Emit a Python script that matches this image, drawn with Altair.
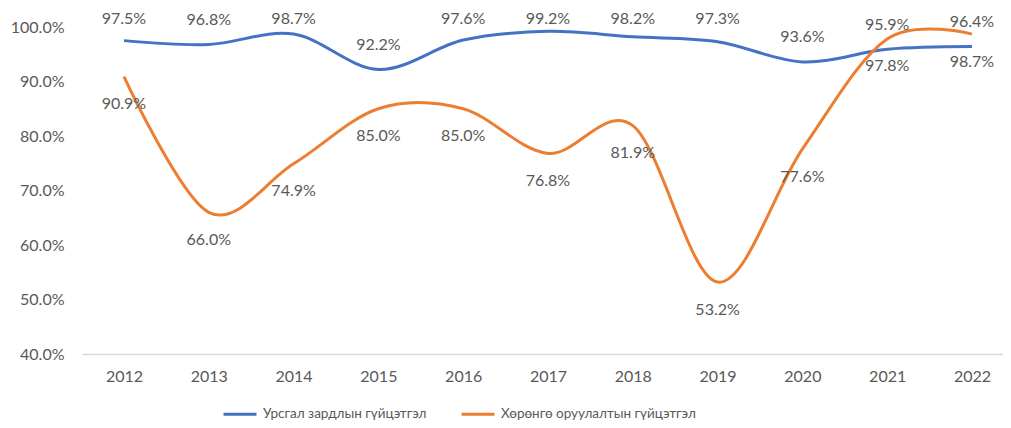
import altair as alt
import pandas as pd

years = [2012, 2013, 2014, 2015, 2016, 2017, 2018, 2019, 2020, 2021, 2022]
current_exec = [97.5, 96.8, 98.7, 92.2, 97.6, 99.2, 98.2, 97.3, 93.6, 95.9, 96.4]
invest_exec = [90.9, 66.0, 74.9, 85.0, 85.0, 76.8, 81.9, 53.2, 77.6, 97.8, 98.7]
series_names = ["Урсгал зардлын гүйцэтгэл", "Хөрөнгө оруулалтын гүйцэтгэл"]
colors = ["#4472C4", "#ED7D31"]
y_ticks = [0.4, 0.5, 0.6, 0.7, 0.8, 0.9, 1.0]

rows = []
for i, yr in enumerate(years):
    rows.append({"year": yr, "series": series_names[0], "value": current_exec[i] / 100})
    rows.append({"year": yr, "series": series_names[1], "value": invest_exec[i] / 100})
df = pd.DataFrame(rows)

FONT = "Lato"
GRAY = "#595959"

x_enc = alt.X(
    "year:Q",
    scale=alt.Scale(domain=[2011.505, 2022.366], nice=False, zero=False),
    axis=alt.Axis(
        values=years, format="d", title=None, grid=False, ticks=False,
        domainColor="#D9D9D9", domainWidth=1.5, labelPadding=14,
        labelFont=FONT, labelFontSize=16, labelColor=GRAY, labelFlush=False,
    ),
)
y_scale = alt.Scale(domain=[0.4, 1.0], nice=False, zero=False)
y_enc = alt.Y(
    "value:Q",
    scale=y_scale,
    axis=alt.Axis(
        values=y_ticks, format=".1%", title=None, grid=False, ticks=False,
        domain=False, labelPadding=18,
        labelFont=FONT, labelFontSize=16, labelColor=GRAY,
    ),
)
color_enc = alt.Color(
    "series:N",
    scale=alt.Scale(domain=series_names, range=colors),
    sort=series_names,
    legend=alt.Legend(
        title=None, orient="none", legendX=140, legendY=369, direction="horizontal",
        symbolType="stroke", symbolSize=1089, symbolStrokeWidth=3,
        labelFont=FONT, labelFontSize=13.5, labelColor=GRAY, labelLimit=400,
        columnPadding=28, labelOffset=5,
    ),
)

base = alt.Chart(df)

lines = base.mark_line(interpolate="cardinal", strokeWidth=3).encode(
    x=x_enc, y=y_enc, color=color_enc, detail="series:N"
)

# labels above the blue line, kept inside the chart top (as in the reference)
lbl_top = base.transform_filter(alt.datum.series == series_names[0]).transform_calculate(
    ly="min(datum.value + 0.045, 1.0147)"
).mark_text(font=FONT, fontSize=16, color=GRAY, baseline="middle").encode(
    x="year:Q", y=alt.Y("ly:Q", scale=y_scale), text=alt.Text("value:Q", format=".1%")
)

lbl_bot = base.transform_filter(alt.datum.series == series_names[1]).mark_text(
    dy=27.5, font=FONT, fontSize=16, color=GRAY, baseline="middle"
).encode(x="year:Q", y="value:Q", text=alt.Text("value:Q", format=".1%"))

chart = alt.layer(lines, lbl_top, lbl_bot).properties(
    width=921,
    height=327,
    autosize=alt.AutoSizeParams(type="none"),
    padding={"left": 74, "top": 19, "right": 0, "bottom": 66},
    background="white",
).configure_view(stroke=None)

chart.save("out.html", embed_options={"renderer": "svg", "actions": False})
